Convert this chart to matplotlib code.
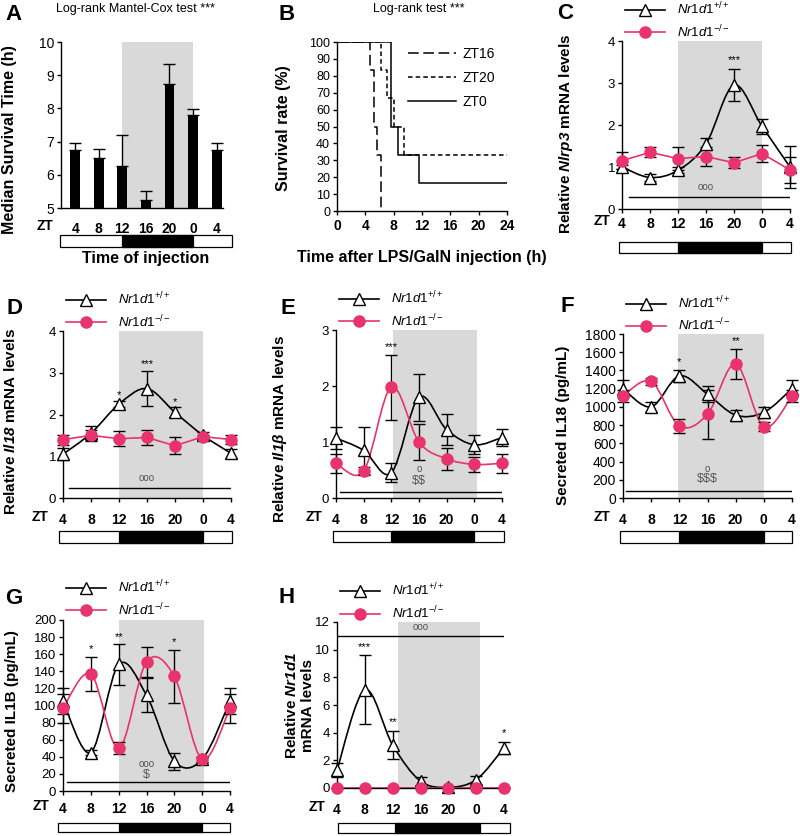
import matplotlib
matplotlib.use('Agg')
import matplotlib.pyplot as plt
import numpy as np
from matplotlib.path import Path
from matplotlib.patches import PathPatch
from matplotlib.lines import Line2D

plt.rcParams['font.family'] = ['Liberation Sans', 'DejaVu Sans']
plt.rcParams['mathtext.fontset'] = 'custom'
plt.rcParams['mathtext.rm'] = 'Liberation Sans'
plt.rcParams['mathtext.it'] = 'Liberation Sans:italic'
plt.rcParams['mathtext.bf'] = 'Liberation Sans:bold:italic'

PINK = '#e8336d'
SHADE = '#d9d9d9'

zt_labels = ['4', '8', '12', '16', '20', '0', '4']

# A: median survival time
a_median = [6.75, 6.5, 6.25, 5.25, 8.75, 7.8, 6.75]
a_err = [0.22, 0.28, 0.95, 0.27, 0.6, 0.18, 0.22]

# B: survival curves (time h, survival %)
zt16_t = [0, 4.7, 5.2, 5.6, 6.2]
zt16_s = [100, 83.3, 50, 33.3, 0]
zt20_t = [0, 6.2, 7.0, 8.0, 9.5, 24]
zt20_s = [100, 83.3, 66.7, 50, 33.3, 33.3]
zt0_t = [0, 7.6, 8.6, 11.6, 24]
zt0_s = [100, 50, 33.3, 16.7, 16.7]

# C: Nlrp3
c_wt = [1.0, 0.75, 0.92, 1.55, 2.95, 1.97, 1.0]
c_wt_err = [0.05, 0.08, 0.07, 0.15, 0.38, 0.18, 0.5]
c_ko = [1.15, 1.35, 1.2, 1.25, 1.1, 1.32, 0.93]
c_ko_err = [0.2, 0.12, 0.27, 0.22, 0.13, 0.2, 0.3]

# D: Il18
d_wt = [1.05, 1.55, 2.25, 2.62, 2.05, 1.5, 1.07]
d_wt_err = [0.15, 0.18, 0.07, 0.42, 0.12, 0.08, 0.1]
d_ko = [1.4, 1.5, 1.42, 1.45, 1.25, 1.47, 1.4]
d_ko_err = [0.12, 0.12, 0.18, 0.17, 0.2, 0.05, 0.1]

# E: Il1b
e_wt = [1.07, 0.85, 0.45, 1.8, 1.22, 0.95, 1.08]
e_wt_err = [0.2, 0.42, 0.17, 0.42, 0.28, 0.17, 0.15]
e_ko = [0.62, 0.48, 1.98, 1.0, 0.7, 0.6, 0.62]
e_ko_err = [0.17, 0.07, 0.58, 0.32, 0.2, 0.14, 0.17]

# F: secreted IL18
f_wt = [1200, 1000, 1340, 1140, 910, 940, 1200]
f_wt_err = [90, 55, 70, 90, 60, 60, 90]
f_ko = [1120, 1280, 790, 920, 1470, 780, 1120]
f_ko_err = [70, 40, 80, 270, 165, 50, 70]

# G: secreted IL1B
g_wt = [105, 45, 148, 112, 35, 37, 105]
g_wt_err = [15, 3, 24, 20, 10, 3, 15]
g_ko = [97, 137, 50, 151, 134, 37, 97]
g_ko_err = [17, 20, 7, 18, 31, 3, 17]

# H: Nr1d1
h_wt = [1.3, 7.1, 3.1, 0.5, 0.05, 0.6, 2.9]
h_wt_err = [0.5, 2.5, 1.0, 0.3, 0.05, 0.3, 0.45]
h_ko = [0, 0, 0, 0, 0, 0, 0]
h_ko_err = [0, 0, 0, 0, 0, 0, 0]

W, H = 800, 836
fig = plt.figure(figsize=(8, 8.36), dpi=100)


def rect(l, t, r, b):
    return [l / W, 1 - b / H, (r - l) / W, (b - t) / H]


def letter(x, y, s):
    fig.text(x / W, 1 - y / H, s, fontsize=16, fontweight='bold', va='baseline')


def smooth_path(x, y):
    pts = np.column_stack([x, y]).astype(float)
    verts = [pts[0]]
    codes = [Path.MOVETO]
    n = len(pts)
    for i in range(n - 1):
        p0 = pts[i - 1] if i > 0 else pts[i]
        p1, p2 = pts[i], pts[i + 1]
        p3 = pts[i + 2] if i + 2 < n else pts[i + 1]
        verts += [p1 + (p2 - p0) / 6, p2 - (p3 - p1) / 6, p2]
        codes += [Path.CURVE4] * 3
    return Path(verts, codes)


def ld_bar(r, xlim, dark, light):
    lax = fig.add_axes(r)
    lax.set_xlim(xlim)
    lax.set_ylim(0, 1)
    lax.axis('off')
    lax.barh(0.5, light[1] - light[0], left=light[0], height=1, color='white',
             edgecolor='k', lw=0.9, clip_on=False)
    lax.barh(0.5, dark[1] - dark[0], left=dark[0], height=1, color='black',
             edgecolor='k', lw=0.9, clip_on=False)


def style_axes(ax):
    ax.spines['top'].set_visible(False)
    ax.spines['right'].set_visible(False)
    ax.spines['left'].set_linewidth(1)
    ax.spines['bottom'].set_linewidth(1)


def line_panel(r, wt, wt_err, ko, ko_err, smooth, ylim, yticks, ylabel, ylab_pos,
               shade, zt_pos, xpad, stars, circles, dollars, sig, ld_r, dark, light,
               ytick_fs=9.5):
    ax = fig.add_axes(r)
    style_axes(ax)
    x = np.arange(7)
    ax.axvspan(shade[0], shade[1], color=SHADE, lw=0, zorder=0)
    for vals, col, sm in [(wt, 'k', smooth[0]), (ko, PINK, smooth[1])]:
        if sm:
            ax.add_patch(PathPatch(smooth_path(x, vals), fill=False, edgecolor=col,
                                   lw=1.2, zorder=2, clip_on=False))
        else:
            ax.plot(x, vals, color=col, lw=1.2, zorder=2, clip_on=False)
    for vals, err in [(wt, wt_err), (ko, ko_err)]:
        eb = ax.errorbar(x, vals, yerr=err, fmt='none', ecolor='k', elinewidth=1,
                         capsize=4, capthick=1, zorder=3)
        for a in eb.lines[1] + eb.lines[2]:
            a.set_clip_on(False)
    ax.plot(x, wt, '^', mfc='white', mec='k', mew=1, ms=8.5, zorder=4, clip_on=False)
    ax.plot(x, ko, 'o', color=PINK, ms=8, zorder=5, clip_on=False)
    ax.plot([sig[0], sig[1]], [sig[2], sig[2]], color='k', lw=1, zorder=3)
    for xs, ys, s in stars:
        ax.text(xs, ys, s, ha='center', va='bottom', fontsize=8, zorder=6)
    for xs, ys, s in circles:
        ax.text(xs, ys, s, ha='center', va='bottom', fontsize=7, color='#555555', zorder=6)
    for xs, ys, s in dollars:
        ax.text(xs, ys, s, ha='center', va='bottom', fontsize=9, color='#555555',
                zorder=6, parse_math=False)
    ax.set_xlim(0, 6)
    ax.set_ylim(ylim)
    ax.set_yticks(yticks)
    ax.set_xticks(x)
    ax.set_xticklabels(zt_labels, fontweight='bold', fontsize=10)
    ax.tick_params(axis='x', length=3, width=1, pad=xpad, direction='out')
    ax.tick_params(axis='y', length=3, width=1, labelsize=ytick_fs, pad=2)
    ax.text(zt_pos[0], zt_pos[1], 'ZT', transform=ax.transAxes, ha='right', va='center',
            fontweight='bold', fontsize=10)
    ax.set_ylabel(ylabel, fontweight='bold', fontsize=11)
    ax.yaxis.set_label_coords(ylab_pos[0], ylab_pos[1])
    handles = [Line2D([], [], color='k', marker='^', mfc='white', mec='k', ms=8.5, lw=1.2),
               Line2D([], [], color=PINK, marker='o', ms=8, lw=1.2)]
    ax.legend(handles, [r'$\mathit{Nr1d1}^{+/+}$', r'$\mathit{Nr1d1}^{-/-}$'],
              loc='upper left', bbox_to_anchor=(0.02, 1.24), frameon=False,
              borderpad=0, borderaxespad=0, handlelength=3.0, handletextpad=0.9,
              labelspacing=0.45, fontsize=9.5)
    ld_bar(ld_r, (0, 6), dark, light)
    return ax


# ---------------- A ----------------
axA = fig.add_axes(rect(61, 42, 223, 208))
style_axes(axA)
xa = np.arange(7)
axA.axvspan(2, 5, color=SHADE, lw=0, zorder=0)
axA.bar(xa, a_median, width=0.42, color='black', zorder=2)
axA.errorbar(xa, a_median, yerr=[np.zeros(7), a_err], fmt='none', ecolor='k',
             elinewidth=1, capsize=4, capthick=1, zorder=3)
axA.set_xlim(-0.6, 6.27)
axA.set_ylim(5, 10)
axA.set_yticks(range(5, 11))
axA.set_xticks(xa)
axA.set_xticklabels(zt_labels, fontweight='bold', fontsize=10)
axA.tick_params(axis='x', length=0, pad=10)
axA.tick_params(axis='y', length=3, width=1, labelsize=10, pad=2)
axA.text(-0.05, -0.108, 'ZT', transform=axA.transAxes, ha='right', va='center',
         fontweight='bold', fontsize=10)
axA.set_ylabel('Median Survival Time (h)', fontweight='bold', fontsize=11.5)
axA.yaxis.set_label_coords(-0.27, 0.415)
fig.text(135 / W, 1 - 9 / H, 'Log-rank Mantel-Cox test ***', fontsize=9,
         ha='center', va='center')
fig.text(146 / W, 1 - 258 / H, 'Time of injection', fontsize=11.5, fontweight='bold',
         ha='center', va='center')
ldA = fig.add_axes(rect(61, 235, 223, 247))
ldA.set_xlim(-0.6, 6.27)
ldA.set_ylim(0, 1)
ldA.axis('off')
ldA.barh(0.5, 7.3, left=-0.65, height=1, color='white', edgecolor='k', lw=0.9, clip_on=False)
ldA.barh(0.5, 3, left=2, height=1, color='black', edgecolor='k', lw=0.9, clip_on=False)

# ---------------- B ----------------
axB = fig.add_axes(rect(337, 42, 507, 211))
style_axes(axB)
axB.step(zt16_t, zt16_s, where='post', color='k', lw=1.1, dashes=(7, 3), label='ZT16')
axB.step(zt20_t, zt20_s, where='post', color='k', lw=1.1, dashes=(3, 2), label='ZT20')
axB.step(zt0_t, zt0_s, where='post', color='k', lw=1.1, label='ZT0')
axB.set_xlim(0, 24)
axB.set_ylim(0, 100)
axB.set_xticks(range(0, 25, 4))
axB.set_yticks(range(0, 101, 10))
axB.set_xticklabels([str(v) for v in range(0, 25, 4)], fontweight='bold', fontsize=10)
axB.tick_params(axis='x', length=3, width=1, pad=3)
axB.tick_params(axis='y', length=3, width=1, labelsize=9, pad=2)
axB.set_ylabel('Survival rate (%)', fontweight='bold', fontsize=11.5)
axB.yaxis.set_label_coords(-0.27, 0.49)
axB.set_xlabel('Time after LPS/GalN injection (h)', fontweight='bold', fontsize=11.5,
               labelpad=12)
fig.text(419 / W, 1 - 9 / H, 'Log-rank test ***', fontsize=9, ha='center', va='center')
axB.legend(loc='upper left', bbox_to_anchor=(0.42, 0.97), frameon=False, borderpad=0,
           borderaxespad=0, handlelength=3.4, handletextpad=0.5, labelspacing=0.7,
           fontsize=10)

# ---------------- C ----------------
line_panel(rect(622, 41, 790, 209), c_wt, c_wt_err, c_ko, c_ko_err, (True, False),
           (0, 4), range(0, 5), r'Relative $\mathbf{Nlrp3}$ mRNA levels', (-0.28, 0.45),
           (2, 5), (-0.07, -0.071), 3,
           [(4, 3.42, '***')], [(3, 0.4, 'ooo')], [], (0.25, 5.95, 0.28),
           rect(622, 242, 790, 253), (2, 5), (-0.12, 6.05))

# ---------------- D ----------------
line_panel(rect(63, 331, 231, 498), d_wt, d_wt_err, d_ko, d_ko_err, (True, False),
           (0, 4), range(0, 5), r'Relative $\mathbf{Il18}$ mRNA levels', (-0.27, 0.46),
           (2, 5), (-0.09, -0.114), 8,
           [(2, 2.35, '*'), (3, 3.08, '***'), (4, 2.18, '*')], [(3, 0.35, 'ooo')], [],
           (0.2, 6.0, 0.23), rect(63, 531, 231, 543), (2, 5), (-0.14, 6.04))

# ---------------- E ----------------
line_panel(rect(336, 330, 502, 498), e_wt, e_wt_err, e_ko, e_ko_err, (True, True),
           (0, 3), range(0, 4), r'Relative $\mathbf{Il1\beta}$ mRNA levels', (-0.285, 0.41),
           (2.05, 5.1), (-0.084, -0.114), 8,
           [(2, 2.6, '***')], [(3, 0.42, 'o')], [(3, 0.2, '$$')],
           (0.15, 6.0, 0.1), rect(336, 531, 502, 542), (2, 5), (-0.1, 6.07))

# ---------------- F ----------------
line_panel(rect(623, 334, 792, 498), f_wt, f_wt_err, f_ko, f_ko_err, (True, True),
           (0, 1800), range(0, 1801, 200), 'Secreted IL18 (pg/mL)', (-0.315, 0.445),
           (1.97, 5.0), (-0.077, -0.116), 8,
           [(2, 1440, '*'), (4, 1670, '**')], [(3, 260, 'o')], [(3, 140, '$$$')],
           (0.1, 5.95, 75), rect(623, 531, 792, 543), (2, 5), (-0.1, 6.0), ytick_fs=10)

# ---------------- G ----------------
line_panel(rect(63, 620, 230, 791), g_wt, g_wt_err, g_ko, g_ko_err, (True, True),
           (0, 200), range(0, 201, 20), 'Secreted IL1B (pg/mL)', (-0.265, 0.47),
           (2.02, 5.05), (-0.084, -0.088), 5,
           [(1, 160, '*'), (2, 174, '**'), (4, 168, '*')], [(3, 26, 'ooo')], [(3, 12, '$')],
           (0.15, 5.95, 10), rect(63, 823, 230, 832), (2, 5), (-0.18, 6.0))

# ---------------- H ----------------
line_panel(rect(337, 622, 504, 788), h_wt, h_wt_err, h_ko, h_ko_err, (True, False),
           (0, 12), range(0, 13, 2), 'Relative $\\mathbf{Nr1d1}$\nmRNA levels', (-0.13, 0.5),
           (2.2, 5.13), (-0.072, -0.114), 8,
           [(1, 9.85, '***'), (2, 4.4, '**'), (6, 3.6, '*')], [(3, 11.3, 'ooo')], [],
           (0.0, 5.95, 11), rect(337, 823, 504, 833), (2.1, 5.15), (0.03, 6.2))

letter(5, 20, 'A')
letter(278, 20, 'B')
letter(557, 19, 'C')
letter(6, 314, 'D')
letter(281, 314, 'E')
letter(560, 312, 'F')
letter(5, 604, 'G')
letter(278, 603, 'H')

fig.savefig('out.png', dpi=100)
